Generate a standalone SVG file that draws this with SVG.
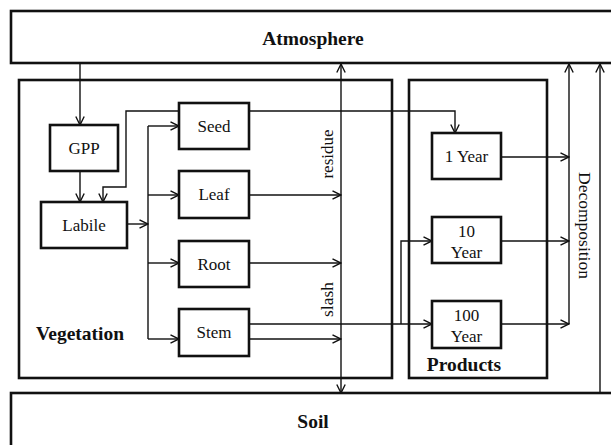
<svg xmlns="http://www.w3.org/2000/svg" width="611" height="445" viewBox="0 0 611 445">
<defs>
<marker id="ah" viewBox="0 0 10 10" refX="9.5" refY="5" markerWidth="10" markerHeight="10" markerUnits="userSpaceOnUse" orient="auto-start-reverse">
<path d="M1,0.8 L9.5,5 L1,9.2" fill="none" stroke="#111" stroke-width="1.4"/>
</marker>
<style>
.big{fill:#fff;stroke:#111;stroke-width:2.6}
.box{fill:#fff;stroke:#111;stroke-width:2.6}
.t{font-family:"Liberation Serif","Times New Roman",serif;font-size:17px;fill:#111;text-anchor:middle}
.b{font-family:"Liberation Serif","Times New Roman",serif;font-size:19.5px;font-weight:bold;fill:#111}
.c{fill:none;stroke:#111;stroke-width:1.4}
.a{marker-end:url(#ah)}
</style>
</defs>
<rect width="611" height="445" fill="#fff"/>
<g id="atmosphere"><rect class="big" x="11" y="11" width="620" height="52"/><text class="b" x="313" y="45" text-anchor="middle">Atmosphere</text></g>
<g id="soil"><rect class="big" x="11" y="393" width="620" height="70"/><text class="b" x="313" y="428" text-anchor="middle">Soil</text></g>
<g id="vegetation"><rect class="big" x="19" y="80" width="373" height="298"/><text class="b" x="36" y="340">Vegetation</text></g>
<g id="products"><rect class="big" x="409" y="80" width="138" height="298"/><text class="b" x="464" y="371" text-anchor="middle">Products</text></g>
<g id="connectors">
<path class="c a" d="M80,63 V125"/>
<path class="c a" d="M80,171 V202"/>
<path class="c a" d="M179,111 H126 V187 H103 V202"/>
<path class="c a" d="M127,224 H148"/>
<path class="c" d="M148,126 V339"/>
<path class="c a" d="M148,126 H179"/>
<path class="c a" d="M148,195 H179"/>
<path class="c a" d="M148,263 H179"/>
<path class="c a" d="M148,339 H179"/>
<path class="c a" d="M249,111 H455 V133"/>
<path class="c a" d="M249,195 H341"/>
<path class="c a" d="M249,263 H341"/>
<path class="c a" d="M249,339 H341"/>
<path class="c a" d="M249,324 H432"/>
<path class="c a" d="M401,324 V241 H432"/>
<path class="c a" d="M341,228 V64" style="marker-start:none"/>
<path class="c a" d="M341,228 V393"/>
<path class="c a" d="M501,157 H569"/>
<path class="c a" d="M501,241 H569"/>
<path class="c a" d="M501,324 H569"/>
<path class="c a" d="M569,324 V64"/>
<path class="c a" d="M600,393 V64"/>
</g>
<g id="labels">
<text class="t" transform="translate(333,154) rotate(-90)">residue</text>
<text class="t" transform="translate(333,299.5) rotate(-90)" style="font-size:17.5px">slash</text>
<text class="t" transform="translate(579,225.5) rotate(90)" style="font-size:17.5px">Decomposition</text>
</g>
<g id="gpp"><rect class="box" x="50" y="125" width="68" height="46"/><text class="t" x="84" y="154">GPP</text></g>
<g id="labile"><rect class="box" x="41" y="202" width="86" height="46"/><text class="t" x="84" y="231">Labile</text></g>
<g id="seed"><rect class="box" x="179" y="103" width="70" height="46"/><text class="t" x="214" y="132">Seed</text></g>
<g id="leaf"><rect class="box" x="179" y="171" width="70" height="47"/><text class="t" x="214" y="200">Leaf</text></g>
<g id="root"><rect class="box" x="179" y="241" width="70" height="46"/><text class="t" x="214" y="270">Root</text></g>
<g id="stem"><rect class="box" x="179" y="309" width="70" height="47"/><text class="t" x="214" y="338">Stem</text></g>
<g id="year1"><rect class="box" x="432" y="133" width="69" height="46"/><text class="t" x="466.5" y="162">1 Year</text></g>
<g id="year10"><rect class="box" x="432" y="217" width="69" height="46"/><text class="t" x="466.5" y="237">10</text><text class="t" x="466.5" y="258">Year</text></g>
<g id="year100"><rect class="box" x="432" y="301" width="69" height="47"/><text class="t" x="466.5" y="321">100</text><text class="t" x="466.5" y="342">Year</text></g>
</svg>
